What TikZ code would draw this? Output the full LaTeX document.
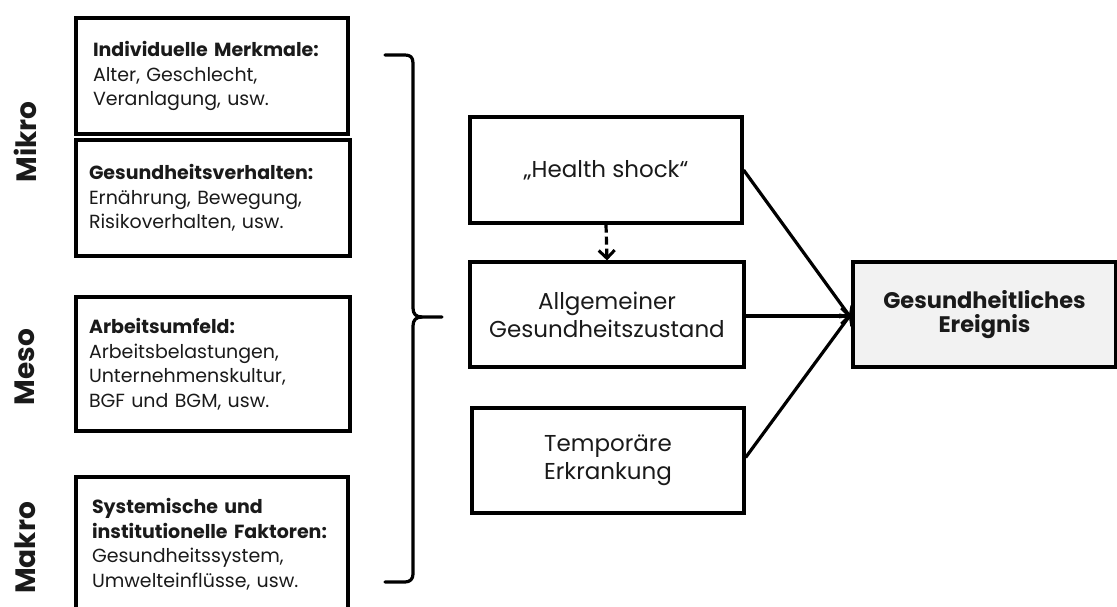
\documentclass[tikz,border=0pt]{standalone}
\usepackage{fontspec}
\setmainfont{Poppins}
\usetikzlibrary{arrows.meta}
\definecolor{ink}{HTML}{1A1A1A}
\definecolor{goalfill}{HTML}{F2F2F2}
\tikzset{
  x=1pt, y=-1pt,
  box/.style={draw=black, line width=3.2pt, rectangle, inner sep=0pt, text=ink},
  factor/.style={box, align=left, font=\fontsize{19}{24.5}\selectfont},
  state/.style={box, align=center, font=\fontsize{23}{28}\selectfont},
  goal/.style={box, fill=goalfill, align=center, font=\bfseries\fontsize{22.5}{24}\selectfont},
  level/.style={rotate=90, font=\bfseries\fontsize{28}{30}\selectfont, text=ink, inner sep=0pt},
  link/.style={line width=3.2pt, -{Straight Barb[length=8pt,width=16pt,line width=3pt]}},
  bracepath/.style={line width=3.2pt, line cap=round, line join=round}
}
\begin{document}
\begin{tikzpicture}
\useasboundingbox (0,0) rectangle (1117,606);

% level labels
\node[level] (mikro) at (25,142) {Mikro};
\node[level] (meso)  at (25,367) {Meso};
\node[level] (makro) at (25,548) {Makro};

% influencing factors
\node[factor, minimum width=272pt, minimum height=116pt, text width=238pt] (ind) at (212,76)
  {\textbf{Individuelle Merkmale:}\\Alter, Geschlecht,\\Veranlagung, usw.};
\node[factor, minimum width=274pt, minimum height=116pt, text width=248pt] (verh) at (213,198)
  {\textbf{Gesundheitsverhalten:}\\Ernährung, Bewegung,\\Risikoverhalten, usw.};
\node[factor, minimum width=274pt, minimum height=134pt, text width=248pt] (arb) at (213,364)
  {\textbf{Arbeitsumfeld:}\\Arbeitsbelastungen,\\Unternehmenskultur,\\BGF und BGM, usw.};
\node[factor, minimum width=272pt, minimum height=134pt, text width=240pt] (sys) at (212,544)
  {\textbf{Systemische und}\\\textbf{institutionelle Faktoren:}\\Gesundheitssystem,\\Umwelteinflüsse, usw.};

% brace grouping the factors
\coordinate (btop) at (385,55);
\coordinate (bbot) at (385,582);
\coordinate (btip) at (442,317);
\draw[bracepath] (btop) -- (405,55) .. controls (410,55) and (413,57) .. (413,63)
  -- (413,308) .. controls (413,314) and (416,317) .. (422,317) -- (btip);
\draw[bracepath] (422,317) .. controls (416,317) and (413,320) .. (413,326)
  -- (413,574) .. controls (413,579) and (410,582) .. (405,582) -- (bbot);

% health states
\node[state, minimum width=272pt, minimum height=106pt] (shock) at (606,170) {„Health shock“};
\node[state, minimum width=274pt, minimum height=105pt] (allg) at (607,314.5) {Allgemeiner\\Gesundheitszustand};
\node[state, minimum width=272pt, minimum height=105pt] (temp) at (608,460.5) {Temporäre\\Erkrankung};

% outcome
\node[goal, minimum width=263pt, minimum height=105pt] (event) at (984.5,314.5) {Gesundheitliches\\Ereignis};

% connectors
\draw[link, dash pattern=on 8pt off 4pt] (shock.south) -- (allg.north);
\draw[link] (shock.east) -- ([yshift=-4pt]event.west);
\draw[link] ([yshift=-1.5pt]allg.east) -- ([yshift=-1.5pt]event.west);
\draw[link] ([yshift=3pt]temp.east) -- ([yshift=1pt]event.west);
\end{tikzpicture}
\end{document}
